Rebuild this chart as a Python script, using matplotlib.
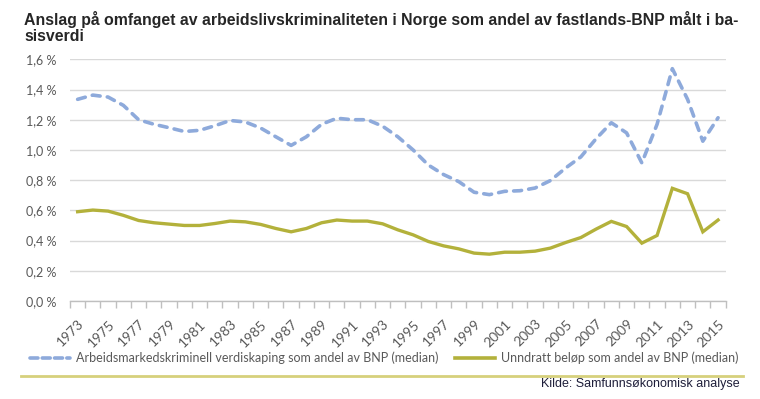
import matplotlib
matplotlib.use("Agg")
import matplotlib.pyplot as plt
import numpy as np
from matplotlib.lines import Line2D

years = list(range(1973, 2016))
arbeid = [1.335, 1.363, 1.35, 1.295, 1.20, 1.17, 1.147, 1.122, 1.13, 1.16,
          1.195, 1.185, 1.145, 1.087, 1.03, 1.087, 1.17, 1.21, 1.20, 1.20,
          1.157, 1.087, 1.00, 0.90, 0.837, 0.79, 0.72, 0.704, 0.726, 0.73,
          0.748, 0.797, 0.88, 0.954, 1.074, 1.18, 1.113, 0.914, 1.17, 1.538,
          1.335, 1.058, 1.213]
unndratt = [0.591, 0.602, 0.595, 0.567, 0.533, 0.518, 0.509, 0.50, 0.50, 0.513,
            0.529, 0.524, 0.507, 0.48, 0.458, 0.48, 0.518, 0.536, 0.529, 0.529,
            0.511, 0.471, 0.438, 0.394, 0.365, 0.345, 0.317, 0.31, 0.323, 0.323,
            0.33, 0.35, 0.387, 0.42, 0.476, 0.527, 0.493, 0.383, 0.434, 0.746,
            0.71, 0.458, 0.536]
y_ticks = [0.0, 0.2, 0.4, 0.6, 0.8, 1.0, 1.2, 1.4, 1.6]
y_labels = ["0,0 %", "0,2 %", "0,4 %", "0,6 %", "0,8 %", "1,0 %", "1,2 %", "1,4 %", "1,6 %"]
series_names = ["Arbeidsmarkedskriminell verdiskaping som andel av BNP (median)",
                "Unndratt beløp som andel av BNP (median)"]
title = "Anslag på omfanget av arbeidslivskriminaliteten i Norge som andel av fastlands-BNP målt i ba-\nsisverdi"
source = "Kilde: Samfunnsøkonomisk analyse"

blue = "#8eaadb"
olive = "#b3b13b"
grey_text = "#595959"

fig = plt.figure(figsize=(7.6, 3.99), dpi=100)
ax = fig.add_axes([70/760, 1-301/399, (725.7-70)/760, (301-59.3)/399])

x = np.arange(len(years))
ax.plot(x, arbeid, color=blue, lw=2.6, dashes=(2.2, 2.0), dash_capstyle="round",
        solid_capstyle="round", zorder=3)
ax.plot(x, unndratt, color=olive, lw=2.4, solid_joinstyle="miter", zorder=3)

ax.set_xlim(-0.5, len(years) - 0.5)
ax.set_ylim(0, 1.6)
ax.set_yticks(y_ticks)
ax.set_yticklabels(y_labels, fontfamily="Lato", fontsize=9, color=grey_text)
ax.tick_params(axis="y", length=0, pad=9.5)
ax.grid(axis="y", color="#d9d9d9", lw=1)
ax.set_axisbelow(True)

# category ticks between categories
ax.set_xticks(np.arange(-0.5, len(years), 1.0))
ax.set_xticklabels([])
ax.tick_params(axis="x", length=5, color="#bfbfbf", width=1, direction="out")
ax.set_xticks(x[::2], minor=True)
ax.set_xticklabels([str(y) for y in years[::2]], minor=True, rotation=45,
                   ha="right", va="top", rotation_mode="anchor",
                   fontfamily="Lato", fontsize=10, color=grey_text)
ax.tick_params(axis="x", which="minor", length=0, pad=12)

for s in ["left", "right", "top"]:
    ax.spines[s].set_visible(False)
ax.spines["bottom"].set_color("#bfbfbf")
ax.spines["bottom"].set_linewidth(1)

# legend
handles = [Line2D([], [], color=blue, lw=2.6, dashes=(2.2, 1.2), dash_capstyle="round"),
           Line2D([], [], color=olive, lw=2.6)]
leg = fig.legend(handles, series_names, loc="center", bbox_to_anchor=(384/760, 1-358/399),
                 ncol=2, frameon=False, prop={"family": "Lato", "size": 9},
                 handlelength=3.2, handletextpad=0.5, columnspacing=1.3)
for t in leg.get_texts():
    t.set_color(grey_text)

# title
fig.text(24/760, 1-11/399, title, ha="left", va="top", fontfamily="Liberation Sans",
         fontweight="bold", fontsize=11.4, color="#262626", linespacing=1.12)

# rule line
fig.add_artist(Line2D([21/760, 743/760], [1-375.5/399, 1-375.5/399], color="#d6d07c",
                      lw=2, transform=fig.transFigure))
fig.text(740/760, 1-384/399, source, ha="right", va="center",
         fontfamily="Liberation Sans", fontsize=9, color="#1f1f3a")

fig.savefig("out.png", dpi=100)
